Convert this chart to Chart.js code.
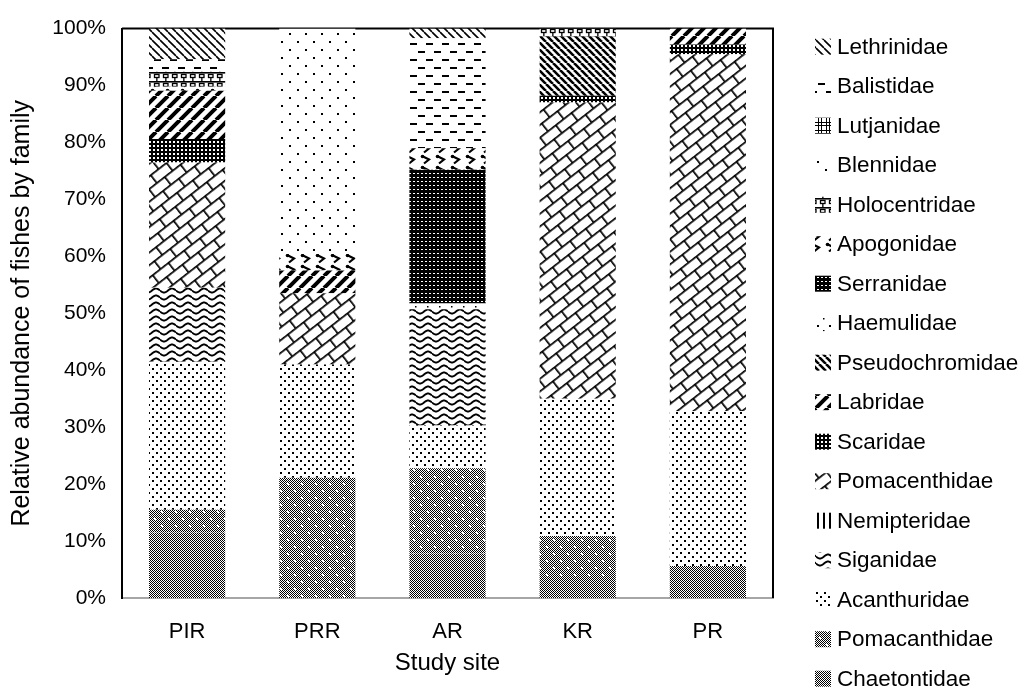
<!DOCTYPE html>
<html><head><meta charset="utf-8">
<script src="https://cdn.jsdelivr.net/npm/chart.js@4.4.1/dist/chart.umd.min.js"></script>
<style>html,body{margin:0;padding:0;background:#fff;overflow:hidden}</style>
</head><body>
<canvas id="c" width="1019" height="691"></canvas>
<script>
// ---- data (percent of fishes per family at each site) ----
const sites = ['PIR', 'PRR', 'AR', 'KR', 'PR'];
// stacking order: bottom -> top
const familyNames = ['Chaetontidae','Pomacanthidae','Acanthuridae','Siganidae','Nemipteridae','Pomacenthidae','Scaridae','Labridae','Pseudochromidae','Haemulidae','Serranidae','Apogonidae','Holocentridae','Blennidae','Lutjanidae','Balistidae','Lethrinidae'];
const chaetontidae    = [11.5,  0.0,  7.8,  3.7,  5.6];
const pomacanthidae   = [ 4.0, 21.1, 15.0,  7.2,  0.0];
const acanthuridae    = [26.0, 19.9,  7.5, 24.1, 27.2];
const siganidae       = [13.0,  0.0, 20.4,  0.0,  0.0];
const nemipteridae    = [ 0.0,  0.0,  0.0,  0.0,  0.0];
const pomacenthidae   = [22.0, 12.5,  0.0, 52.0, 62.7];
const scaridae        = [ 4.1,  0.0,  0.0,  1.2,  1.7];
const labridae        = [ 8.5,  4.0,  0.0,  0.0,  2.8];
const pseudochromidae = [ 0.0,  0.0,  0.0, 10.4,  0.0];
const haemulidae      = [ 0.0,  0.0,  1.0,  0.0,  0.0];
const serranidae      = [ 0.0,  0.0, 23.5,  0.0,  0.0];
const apogonidae      = [ 0.7,  2.9,  3.8,  0.0,  0.0];
const holocentridae   = [ 2.6,  0.0,  0.0,  1.4,  0.0];
const blennidae       = [ 0.0, 39.6,  0.0,  0.0,  0.0];
const lutjanidae      = [ 0.0,  0.0,  0.0,  0.0,  0.0];
const balistidae      = [ 2.2,  0.0, 19.3,  0.0,  0.0];
const lethrinidae     = [ 5.4,  0.0,  1.7,  0.0,  0.0];
const yTickValues = [0,10,20,30,40,50,60,70,80,90,100];

const seriesValues = [chaetontidae, pomacanthidae, acanthuridae, siganidae, nemipteridae, pomacenthidae, scaridae, labridae, pseudochromidae, haemulidae, serranidae, apogonidae, holocentridae, blennidae, lutjanidae, balistidae, lethrinidae];

const FONT = '"Liberation Sans", Arial, sans-serif';

// ---- patterns ----
const canvas = document.getElementById('c');
const mainCtx = canvas.getContext('2d');
function makePattern(w, h, draw, matrix) {
  const c = document.createElement('canvas');
  c.width = w; c.height = h;
  const g = c.getContext('2d');
  g.fillStyle = '#fff'; g.fillRect(0, 0, w, h);
  g.fillStyle = '#000'; g.strokeStyle = '#000';
  draw(g, w, h);
  const p = mainCtx.createPattern(c, 'repeat');
  if (matrix) p.setTransform(matrix);
  return p;
}
function diag(g, w, h, lw, up) {
  g.lineWidth = lw; g.beginPath();
  for (let k = -1; k <= 1; k++) {
    if (up) { g.moveTo(k * w, h); g.lineTo(k * w + w, 0); }
    else { g.moveTo(k * w, 0); g.lineTo(k * w + w, h); }
  }
  g.stroke();
}
function checker(g, w, h) {
  for (let y = 0; y < h; y++) for (let x = 0; x < w; x++) if ((x + y) % 2 === 0) g.fillRect(x, y, 1, 1);
}
const patterns = {
  Chaetontidae: makePattern(2, 2, (g, w, h) => checker(g, w, h)),
  Pomacanthidae: makePattern(14, 14, (g, w, h) => {
    checker(g, w, h);
    g.fillStyle = '#fff';
    g.fillRect(0, 0, 2, 2); g.fillRect(7, 7, 2, 2);
  }),
  Acanthuridae: makePattern(8, 8, (g) => { g.fillRect(0, 0, 2, 2); g.fillRect(4, 4, 2, 2); }),
  Siganidae: makePattern(16, 7, (g, w) => {
    g.lineWidth = 1.9; g.beginPath();
    for (let x = 0; x <= w; x += 0.5) {
      const y = 3.5 + 2 * Math.sin(2 * Math.PI * x / w);
      if (x === 0) g.moveTo(x, y); else g.lineTo(x, y);
    }
    g.stroke();
  }),
  Nemipteridae: makePattern(6, 6, (g) => { g.fillRect(1, 0, 2, 6); }),
  Pomacenthidae: makePattern(20, 20, (g) => {
    g.fillRect(0, 0, 20, 1.7); g.fillRect(0, 10, 20, 1.7);
    g.fillRect(0, 0, 1.7, 10); g.fillRect(10, 10, 1.7, 10);
  }, new DOMMatrix().rotate(-38)),
  Scaridae: makePattern(4, 4, (g) => { g.fillRect(0, 0, 4, 4); g.fillStyle = '#fff'; g.fillRect(1, 1, 2, 2); }),
  Labridae: makePattern(12, 12, (g, w, h) => diag(g, w, h, 4, true)),
  Pseudochromidae: makePattern(7, 7, (g, w, h) => diag(g, w, h, 2.6, false)),
  Haemulidae: makePattern(12, 12, (g) => { g.fillRect(1, 1, 2, 2); g.fillRect(7, 6, 1.5, 1.5); }),
  Serranidae: makePattern(4, 4, (g) => { g.fillRect(0, 0, 4, 4); g.fillStyle = '#fff'; g.fillRect(1, 1, 2, 1); }),
  Apogonidae: makePattern(15, 11, (g) => {
    g.lineWidth = 2.2; g.beginPath();
    g.moveTo(2, 2); g.lineTo(9, 5.5); g.lineTo(4, 9.5); g.stroke();
    g.beginPath(); g.arc(2.5, 2.5, 1.8, 0, Math.PI * 2); g.fill();
  }),
  Holocentridae: makePattern(9, 9, (g) => {
    g.fillRect(0, 0, 9, 1.6);
    g.lineWidth = 1.3; g.strokeRect(1.5, 2.5, 4.5, 3);
    g.fillRect(3.2, 5.5, 1.3, 3.5);
  }),
  Blennidae: makePattern(16, 16, (g) => { g.fillRect(1, 1, 2, 2); g.fillRect(9, 9, 2, 2); }),
  Lutjanidae: makePattern(8, 8, (g) => { g.fillRect(2, 0, 1, 8); g.fillRect(5, 0, 1, 8); g.fillRect(0, 2, 8, 1); g.fillRect(0, 5, 8, 1); }),
  Balistidae: makePattern(16, 16, (g) => { g.fillRect(2, 3, 7, 2); g.fillRect(10, 11, 7, 2); g.fillRect(0, 11, 1, 2); }),
  Lethrinidae: makePattern(8, 8, (g, w, h) => diag(g, w, h, 1.6, false))
};

const datasets = familyNames.map((name, i) => ({
  label: name,
  data: seriesValues[i],
  backgroundColor: patterns[name],
  borderWidth: 0,
  barPercentage: 0.585,
  categoryPercentage: 1.0
}));

// frame (top + right lines) drawn below the bars
const framePlugin = {
  id: 'frame',
  beforeDatasetsDraw(chart) {
    const {ctx, chartArea: a} = chart;
    ctx.save();
    ctx.strokeStyle = '#000'; ctx.lineWidth = 2;
    ctx.beginPath();
    ctx.moveTo(a.left, a.top); ctx.lineTo(a.right, a.top); ctx.lineTo(a.right, a.bottom);
    ctx.stroke();
    ctx.restore();
  }
};
// legend drawn from the datasets (top of stack first)
const legendPlugin = {
  id: 'sideLegend',
  afterDraw(chart) {
    const {ctx} = chart;
    const ds = chart.data.datasets;
    ctx.save();
    ctx.font = '22.5px ' + FONT;
    ctx.textBaseline = 'middle';
    ctx.textAlign = 'left';
    for (let k = 0; k < ds.length; k++) {
      const d = ds[ds.length - 1 - k];
      const y = 46.7 + k * 39.5;
      ctx.fillStyle = d.backgroundColor;
      ctx.fillRect(815, y - 8, 16, 16);
      ctx.fillStyle = '#000';
      ctx.fillText(d.label, 837, y + 1);
    }
    ctx.restore();
  }
};

new Chart(canvas, {
  type: 'bar',
  data: { labels: sites, datasets },
  options: {
    responsive: false,
    animation: false,
    layout: { padding: { top: 22, right: 246, bottom: 0, left: 0 } },
    plugins: { legend: { display: false }, tooltip: { enabled: false } },
    scales: {
      x: {
        stacked: true,
        grid: { display: false, drawTicks: false },
        border: { display: true, color: '#a6a6a6', width: 2 },
        ticks: { color: '#000', padding: 21, font: { family: FONT, size: 22 } },
        title: { display: true, text: 'Study site', color: '#000', padding: { top: 0, bottom: 13.6 }, font: { family: FONT, size: 24 } },
        afterFit(s) { s.height = 93; }
      },
      y: {
        stacked: true,
        min: 0, max: 100,
        grid: { display: false, drawTicks: false },
        border: { display: true, color: '#000', width: 2 },
        afterBuildTicks(s) { s.ticks = yTickValues.map(v => ({ value: v })); },
        ticks: { color: '#000', padding: 16, callback: v => v + '%', font: { family: FONT, size: 21 } },
        title: { display: true, text: 'Relative abundance of fishes by family', color: '#000', padding: { top: 7, bottom: 0 }, font: { family: FONT, size: 25 } },
        afterFit(s) { s.width = 122; }
      }
    }
  },
  plugins: [framePlugin, legendPlugin]
});
</script>
</body></html>
